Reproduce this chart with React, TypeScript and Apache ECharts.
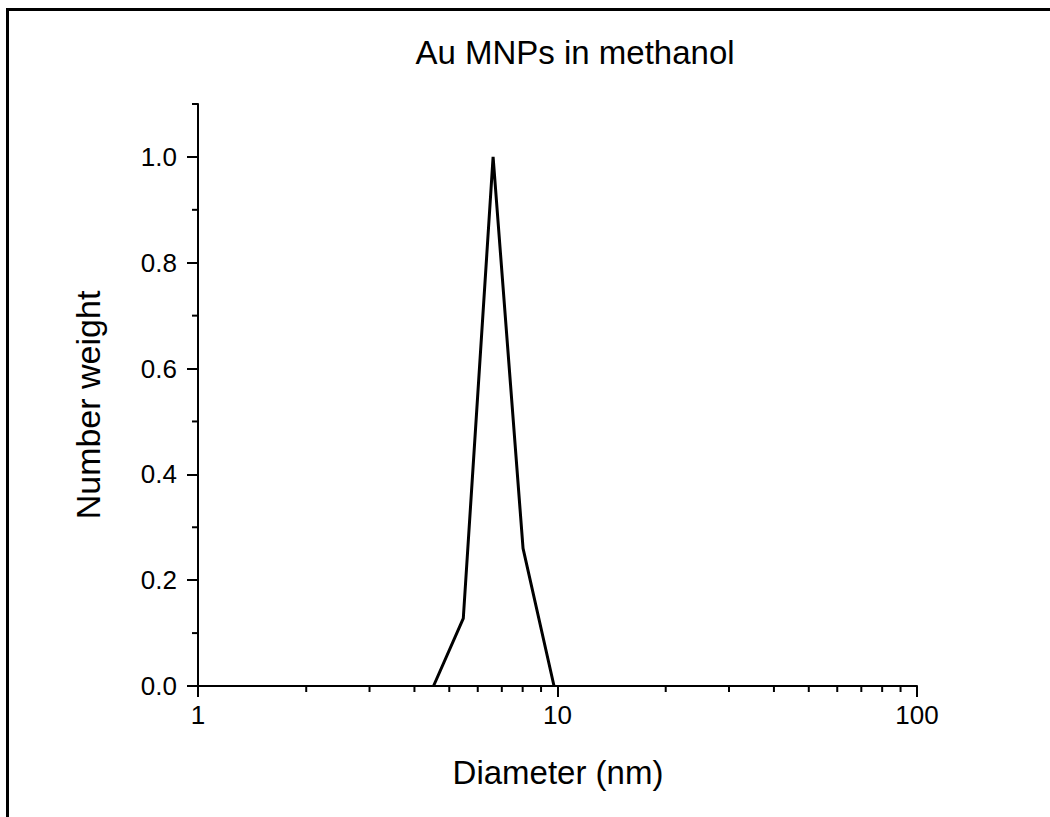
import React, { useEffect, useRef } from "react";
import * as echarts from "echarts";

const titleText = "Au MNPs in methanol";
const xName = "Diameter (nm)";
const yName = "Number weight";
const diameters = [4.52, 5.47, 6.62, 8.02, 9.78];
const weights = [0, 0.128, 1.0, 0.26, 0];
const xMinorTicks = [2, 3, 4, 5, 6, 7, 8, 9, 20, 30, 40, 50, 60, 70, 80, 90];
const yMajorTicks = [0, 0.2, 0.4, 0.6, 0.8, 1.0];
const yMinorTicks = [0.1, 0.3, 0.5, 0.7, 0.9, 1.1];

const FONT = "'Liberation Sans', Arial, sans-serif";

export default function App() {
  const ref = useRef<HTMLDivElement>(null);
  useEffect(() => {
    if (!ref.current) return;
    const chart = echarts.init(ref.current, null, { renderer: "svg" });
    const minorData: any[] = [];
    xMinorTicks.forEach((v) => minorData.push([v, 0, 0]));
    yMinorTicks.forEach((v) => minorData.push([1, v, 1]));
    chart.setOption({
      animation: false,
      backgroundColor: "#ffffff",
      grid: { left: 198, top: 104, width: 719, height: 582, containLabel: false },
      xAxis: {
        type: "log",
        logBase: 10,
        min: 1,
        max: 100,
        axisLine: { show: true, onZero: false, lineStyle: { color: "#000", width: 2 } },
        axisTick: { show: true, inside: false, length: 11, lineStyle: { color: "#000", width: 2 } },
        axisLabel: { color: "#000", fontSize: 26, fontFamily: FONT, margin: 16 },
        splitLine: { show: false },
        minorTick: { show: false },
      },
      yAxis: {
        type: "value",
        min: 0,
        max: 1.1,
        interval: 0.2,
        axisLine: { show: true, lineStyle: { color: "#000", width: 2 } },
        axisTick: {
          show: true,
          inside: false,
          length: 11,
          customValues: yMajorTicks,
          lineStyle: { color: "#000", width: 2 },
        },
        axisLabel: {
          color: "#000",
          fontSize: 26,
          fontFamily: FONT,
          margin: 21,
          customValues: yMajorTicks,
          formatter: (v: number) => v.toFixed(1),
        },
        splitLine: { show: false },
      },
      graphic: [
        {
          type: "polyline",
          shape: { points: [[1050, 9.5], [7.5, 9.5], [7.5, 817]] },
          style: { stroke: "#000", lineWidth: 3, fill: "none" },
          z: 100,
        },
        {
          type: "text",
          x: 575,
          y: 52,
          style: { text: titleText, fill: "#000", font: `33px ${FONT}`, align: "center", verticalAlign: "middle" },
        },
        {
          type: "text",
          x: 558,
          y: 772,
          style: { text: xName, fill: "#000", font: `33px ${FONT}`, align: "center", verticalAlign: "middle" },
        },
        {
          type: "text",
          x: 88,
          y: 405,
          rotation: Math.PI / 2,
          style: { text: yName, fill: "#000", font: `34px ${FONT}`, align: "center", verticalAlign: "middle" },
        },
      ],
      series: [
        {
          type: "line",
          data: diameters.map((d, i) => [d, weights[i]]),
          showSymbol: false,
          symbol: "none",
          lineStyle: { color: "#000", width: 3 },
          z: 5,
        },
        {
          type: "custom",
          data: minorData,
          clip: false,
          renderItem: (params: any, api: any) => {
            const p = api.coord([api.value(0), api.value(1)]);
            const isY = api.value(2) === 1;
            return {
              type: "line",
              shape: isY
                ? { x1: p[0], y1: p[1], x2: p[0] - 6, y2: p[1] }
                : { x1: p[0], y1: p[1], x2: p[0], y2: p[1] + 6 },
              style: { stroke: "#000", lineWidth: 2 },
            };
          },
          z: 3,
        },
      ],
    });
    return () => chart.dispose();
  }, []);
  return (
    <div
      ref={ref}
      style={{ position: "fixed", left: 0, top: 0, width: 1050, height: 817 }}
    />
  );
}
